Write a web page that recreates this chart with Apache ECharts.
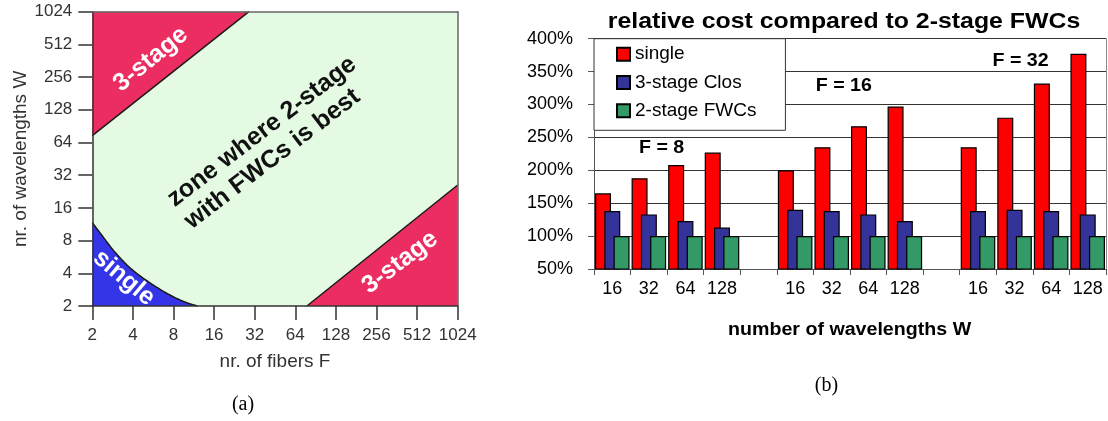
<!DOCTYPE html>
<html>
<head>
<meta charset="utf-8">
<script src="https://cdn.jsdelivr.net/npm/echarts@6/dist/echarts.min.js"></script>
<style>
  html, body { margin: 0; padding: 0; background: #fff; }
  #chart { width: 1108px; height: 421px; }
</style>
</head>
<body>
<div id="chart"></div>
<script>
// ---- (a) regions in the fibers / wavelengths plane (both axes log2) ----
const regionAxisMin = 2;
const regionAxisMax = 1024;
// boundary of the 3-stage zone at high W / low F
const upperClosEdge = [[2, 74], [29, 1024]];
// boundary of the 3-stage zone at high F / low W
const lowerClosEdge = [[78, 2], [1024, 26]];
// boundary of the single-stage zone near the origin
const singleEdge = [[2, 11.7], [2.3, 9.3], [2.9, 6.4], [3.8, 4.5], [5.1, 3.4], [7.2, 2.6], [9.5, 2.2], [12, 2]];

// ---- (b) relative cost bars ----
const fiberGroups = ['F = 8', 'F = 16', 'F = 32'];
const wavelengthLabels = ['16', '32', '64', '128'];
const seriesNames = ['single', '3-stage Clos', '2-stage FWCs'];
const singleCost = [[165, 188, 208, 227], [200, 235, 267, 297], [235, 280, 332, 377]];
const closCost   = [[138, 133, 123, 113], [140, 138, 133, 123], [138, 140, 138, 133]];
const fwcCost    = [[100, 100, 100, 100], [100, 100, 100, 100], [100, 100, 100, 100]];
const costAxisMin = 50;
const costAxisMax = 400;
const costAxisStep = 50;

const SANS = '"Liberation Sans", Arial, Helvetica, sans-serif';
const SERIF = '"Liberation Serif", "Times New Roman", serif';

// one category per wavelength, plus an empty spacer between fiber groups
const categories = [];
fiberGroups.forEach((g, gi) => {
  wavelengthLabels.forEach(w => categories.push(g + '|' + w));
  if (gi < fiberGroups.length - 1) categories.push(g + '|');
});
function withSpacers(groups) {
  const out = [];
  groups.forEach((vals, gi) => {
    vals.forEach(v => out.push(v));
    if (gi < groups.length - 1) out.push('-');
  });
  return out;
}

// Catmull-Rom curve through screen points, returned as a dense polyline
function smoothScreenPath(pts, steps) {
  if (pts.length < 3) return pts.slice();
  const out = [pts[0]];
  for (let i = 0; i < pts.length - 1; i++) {
    const p0 = pts[i - 1] || pts[i];
    const p1 = pts[i];
    const p2 = pts[i + 1];
    const p3 = pts[i + 2] || pts[i + 1];
    const c1 = [p1[0] + (p2[0] - p0[0]) / 6, p1[1] + (p2[1] - p0[1]) / 6];
    const c2 = [p2[0] - (p3[0] - p1[0]) / 6, p2[1] - (p3[1] - p1[1]) / 6];
    for (let s = 1; s <= steps; s++) {
      const t = s / steps, u = 1 - t;
      out.push([
        u * u * u * p1[0] + 3 * u * u * t * c1[0] + 3 * u * t * t * c2[0] + t * t * t * p2[0],
        u * u * u * p1[1] + 3 * u * u * t * c1[1] + 3 * u * t * t * c2[1] + t * t * t * p2[1]
      ]);
    }
  }
  return out;
}

// filled zone bounded by an edge and one corner of the plot
function zoneSeries(edge, corner, color) {
  return {
    type: 'custom',
    coordinateSystem: 'cartesian2d',
    xAxisIndex: 0,
    yAxisIndex: 0,
    silent: true,
    data: [edge[0]],
    renderItem(params, api) {
      const line = smoothScreenPath(edge.map(p => api.coord(p)), 12);
      const poly = line.concat([api.coord(corner)]);
      return {
        type: 'group',
        children: [
          { type: 'polygon', shape: { points: poly }, style: { fill: color } },
          { type: 'polyline', shape: { points: line }, style: { stroke: '#1a1a1a', lineWidth: 1.5, fill: null } }
        ]
      };
    }
  };
}

const chart = echarts.init(document.getElementById('chart'), null, { renderer: 'canvas' });

const logAxisLabel = { fontSize: 17, color: '#333', fontFamily: SANS, formatter: v => String(Math.round(v)) };
const barColors = ['#ff0000', '#333399', '#339966'];
const barGroups = [singleCost, closCost, fwcCost];

chart.setOption({
  animation: false,
  backgroundColor: '#fff',
  grid: [
    { left: 92.3, right: 650.3, top: 11.7, bottom: 115, show: true, backgroundColor: '#e5fae2', borderWidth: 0 },
    { left: 594, right: 2, top: 38.7, bottom: 152 }
  ],
  xAxis: [
    {
      gridIndex: 0, type: 'log', logBase: 2, min: regionAxisMin, max: regionAxisMax, z: 5,
      name: 'nr. of fibers F', nameLocation: 'middle', nameGap: 46,
      nameTextStyle: { fontSize: 19, color: '#333', fontFamily: SANS },
      axisLine: { lineStyle: { color: '#333', width: 1.5 } },
      axisTick: { length: 14, lineStyle: { color: '#333', width: 1.5 } },
      axisLabel: Object.assign({ margin: 21 }, logAxisLabel),
      splitLine: { show: false }
    },
    {
      gridIndex: 0, type: 'value', position: 'top', min: 0, max: 1, z: 5,
      axisLine: { show: true, lineStyle: { color: '#666', width: 1.5 } },
      axisTick: { show: false }, axisLabel: { show: false }, splitLine: { show: false }
    },
    {
      gridIndex: 1, type: 'category', data: categories,
      boundaryGap: true,
      axisLine: { lineStyle: { color: '#555', width: 1 } },
      axisTick: { show: true, interval: 0, length: 6, alignWithLabel: false, lineStyle: { color: '#555' } },
      axisLabel: {
        interval: 0, margin: 11, fontSize: 18, color: '#000', fontFamily: SANS,
        formatter: v => v.split('|')[1]
      },
      splitLine: { show: false }
    }
  ],
  yAxis: [
    {
      gridIndex: 0, type: 'log', logBase: 2, min: regionAxisMin, max: regionAxisMax, z: 5,
      name: 'nr. of wavelengths W', nameLocation: 'middle', nameGap: 60, nameRotate: 90,
      nameTextStyle: { fontSize: 19, color: '#333', fontFamily: SANS },
      axisLine: { lineStyle: { color: '#333', width: 1.5 } },
      axisTick: { length: 14, lineStyle: { color: '#333', width: 1.5 } },
      axisLabel: Object.assign({ margin: 20 }, logAxisLabel),
      splitLine: { show: false }
    },
    {
      gridIndex: 0, type: 'value', position: 'right', min: 0, max: 1, z: 5,
      axisLine: { show: true, lineStyle: { color: '#666', width: 1.5 } },
      axisTick: { show: false }, axisLabel: { show: false }, splitLine: { show: false }
    },
    {
      gridIndex: 1, type: 'value', min: costAxisMin, max: costAxisMax, interval: costAxisStep,
      axisLine: { show: true, lineStyle: { color: '#555', width: 1 } },
      axisTick: { show: true, length: 6, lineStyle: { color: '#555' } },
      axisLabel: { formatter: '{value}%', fontSize: 18, margin: 21, color: '#000', fontFamily: SANS },
      splitLine: { show: true, lineStyle: { color: '#333', width: 1 } }
    },
    {
      gridIndex: 1, type: 'value', position: 'right', min: 0, max: 1,
      axisLine: { show: true, lineStyle: { color: '#888', width: 1 } },
      axisTick: { show: false }, axisLabel: { show: false }, splitLine: { show: false }
    }
  ],
  legend: {
    data: seriesNames,
    orient: 'vertical',
    left: 594, top: 38.7,
    icon: 'rect', itemWidth: 13, itemHeight: 13, itemGap: 9.3,
    padding: [6, 29, 10, 22],
    backgroundColor: '#fff', borderColor: '#333', borderWidth: 1,
    textStyle: { fontSize: 19, color: '#000', fontFamily: SANS }
  },
  series: [
    zoneSeries(upperClosEdge, [regionAxisMin, regionAxisMax], '#ec2d62'),
    zoneSeries(lowerClosEdge, [regionAxisMax, regionAxisMin], '#ec2d62'),
    zoneSeries(singleEdge, [regionAxisMin, regionAxisMin], '#3434e8')
  ].concat(seriesNames.map((name, i) => ({
    name: name,
    type: 'bar',
    xAxisIndex: 2,
    yAxisIndex: 2,
    barWidth: 16,
    barGap: '-42%',
    clip: true,
    data: withSpacers(barGroups[i]),
    itemStyle: { color: barColors[i], borderColor: '#000', borderWidth: 1.2 },
    emphasis: { disabled: true }
  }))),
  graphic: [
    // zone labels of (a)
    { type: 'text', x: 150.7, y: 59.3, rotation: 39 * Math.PI / 180, z: 20,
      style: { text: '3-stage', font: 'bold 25px ' + SANS, fill: '#fff', align: 'center', verticalAlign: 'middle' } },
    { type: 'text', x: 400, y: 262.5, rotation: 37 * Math.PI / 180, z: 20,
      style: { text: '3-stage', font: 'bold 25px ' + SANS, fill: '#fff', align: 'center', verticalAlign: 'middle' } },
    { type: 'text', x: 124, y: 278, rotation: -40 * Math.PI / 180, z: 20,
      style: { text: 'single', font: 'bold 25px ' + SANS, fill: '#fff', align: 'center', verticalAlign: 'middle' } },
    { type: 'text', x: 179, y: 213, rotation: 37.5 * Math.PI / 180, z: 20,
      style: { text: 'zone where 2-stage\nwith FWCs is best', font: 'bold 25px ' + SANS, lineHeight: 28,
               fill: '#111', align: 'left', verticalAlign: 'middle' } },
    // texts of (b)
    { type: 'text', x: 844, y: 21.5, scaleX: 1.13, z: 20,
      style: { text: 'relative cost compared to 2-stage FWCs', font: 'bold 22px ' + SANS, fill: '#000', align: 'center', verticalAlign: 'middle' } },
    { type: 'text', x: 849.6, y: 330, scaleX: 1.09, z: 20,
      style: { text: 'number of wavelengths W', font: 'bold 18px ' + SANS, fill: '#000', align: 'center', verticalAlign: 'middle' } },
    { type: 'text', x: 639, y: 148.4, scaleX: 1.09, z: 20,
      style: { text: fiberGroups[0], font: 'bold 18px ' + SANS, fill: '#000', align: 'left', verticalAlign: 'middle' } },
    { type: 'text', x: 815.7, y: 85.9, scaleX: 1.09, z: 20,
      style: { text: fiberGroups[1], font: 'bold 18px ' + SANS, fill: '#000', align: 'left', verticalAlign: 'middle' } },
    { type: 'text', x: 992.5, y: 60.6, scaleX: 1.09, z: 20,
      style: { text: fiberGroups[2], font: 'bold 18px ' + SANS, fill: '#000', align: 'left', verticalAlign: 'middle' } },
    // panel captions
    { type: 'text', x: 243, y: 405, z: 20,
      style: { text: '(a)', font: '20px ' + SERIF, fill: '#000', align: 'center', verticalAlign: 'middle' } },
    { type: 'text', x: 826.5, y: 386, z: 20,
      style: { text: '(b)', font: '20px ' + SERIF, fill: '#000', align: 'center', verticalAlign: 'middle' } }
  ]
});
</script>
</body>
</html>
